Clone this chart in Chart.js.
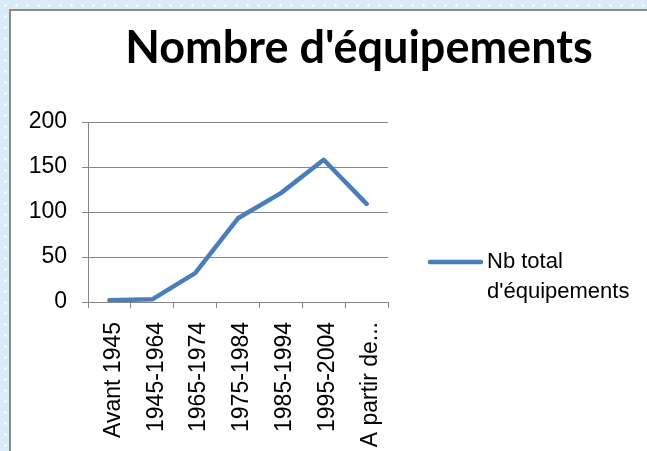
<!DOCTYPE html>
<html>
<head>
<meta charset="utf-8">
<script src="https://cdn.jsdelivr.net/npm/chart.js@4.4.0/dist/chart.umd.min.js"></script>
<style>
  html, body { margin: 0; padding: 0; }
  body {
    width: 647px; height: 451px; overflow: hidden; position: relative;
    background-color: #d9ebf3;
    background-image: radial-gradient(circle, rgba(255,255,255,0.9) 1px, transparent 1.6px);
    background-size: 11px 11px;
  }
  #panel {
    position: absolute; left: 9px; top: 9px; right: 0; bottom: 0;
    background: #fff;
    border-left: 2px solid #8a8a8a; border-top: 2px solid #8a8a8a;
  }
  #chart { position: absolute; left: 0; top: 0; }
</style>
</head>
<body>
<div id="panel"></div>
<canvas id="chart" width="647" height="451"></canvas>
<script>
// Data
const titleText = "Nombre d'équipements";
const periods = ["Avant 1945", "1945-1964", "1965-1974", "1975-1984", "1985-1994", "1995-2004", "A partir de..."];
const nbTotal = [2, 3, 32, 93, 121, 158, 109];
const seriesName = "Nb total d'équipements";
const legendLines = ["Nb total", "d'équipements"];
const yTicks = [0, 50, 100, 150, 200];

const lineColor = '#4a7ebb';
const gridColor = '#868686';

// Excel-style title and legend, drawn on top of the chart
const excelDecor = {
    id: 'excelDecor',
    afterDraw(chart) {
        const ctx = chart.ctx;
        ctx.save();
        ctx.fillStyle = '#000';
        ctx.textAlign = 'center';
        ctx.textBaseline = 'alphabetic';
        ctx.font = 'bold 45px Lato';
        ctx.fillText(titleText, 359, 63);

        // legend
        ctx.strokeStyle = lineColor;
        ctx.lineWidth = 4.5;
        ctx.lineCap = 'round';
        ctx.beginPath();
        ctx.moveTo(430, 262);
        ctx.lineTo(481, 262);
        ctx.stroke();
        ctx.textAlign = 'left';
        ctx.font = '22px "Liberation Sans"';
        legendLines.forEach((t, i) => ctx.fillText(t, 487, 268 + i * 30));
        ctx.restore();
    }
};

new Chart(document.getElementById('chart'), {
    type: 'line',
    data: {
        labels: periods,
        datasets: [{
            label: seriesName,
            data: nbTotal,
            borderColor: lineColor,
            borderWidth: 4.5,
            borderCapStyle: 'round',
            borderJoinStyle: 'round',
            pointRadius: 0,
            tension: 0,
            fill: false
        }]
    },
    options: {
        responsive: false,
        animation: false,
        layout: { padding: { left: 0, right: 259, top: 122, bottom: 0 } },
        plugins: {
            legend: { display: false },
            title: { display: false },
            tooltip: { enabled: false }
        },
        scales: {
            x: {
                offset: true,
                afterFit(axis) { axis.height = 149; },
                grid: { offset: true, drawOnChartArea: false, color: gridColor, tickLength: 6 },
                border: { color: gridColor },
                ticks: {
                    color: '#000',
                    font: { family: 'Liberation Sans', size: 23 },
                    minRotation: 90, maxRotation: 90,
                    padding: 14,
                    labelOffset: 4,
                    autoSkip: false
                }
            },
            y: {
                min: 0, max: 200,
                afterFit(axis) { axis.width = 88; },
                afterBuildTicks(axis) { axis.ticks = yTicks.map(v => ({ value: v })); },
                grid: { color: gridColor, tickLength: 6 },
                border: { color: gridColor },
                ticks: {
                    color: '#000',
                    font: { family: 'Liberation Sans', size: 23 },
                    padding: 15
                }
            }
        }
    },
    plugins: [excelDecor]
});
</script>
</body>
</html>
